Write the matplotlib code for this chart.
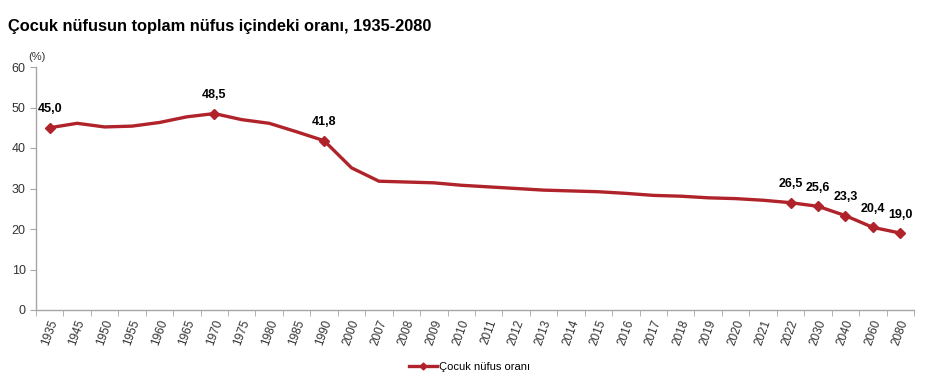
import matplotlib
matplotlib.use('Agg')
import matplotlib.pyplot as plt
import numpy as np

plt.rcParams['font.family'] = ['Liberation Sans', 'DejaVu Sans']

# Data
years = ['1935', '1945', '1950', '1955', '1960', '1965', '1970', '1975', '1980', '1985',
         '1990', '2000', '2007', '2008', '2009', '2010', '2011', '2012', '2013', '2014',
         '2015', '2016', '2017', '2018', '2019', '2020', '2021', '2022', '2030', '2040',
         '2060', '2080']
ratio = [45.0, 46.1, 45.2, 45.4, 46.3, 47.7, 48.5, 47.0, 46.1, 44.0,
         41.8, 35.1, 31.8, 31.6, 31.4, 30.8, 30.4, 30.0, 29.6, 29.4,
         29.2, 28.8, 28.3, 28.1, 27.7, 27.5, 27.1, 26.5, 25.6, 23.3,
         20.4, 19.0]
labeled = ['1935', '1970', '1990', '2022', '2030', '2040', '2060', '2080']

red = '#B0232A'
axis_grey = '#a6a6a6'

fig = plt.figure(figsize=(9.33, 3.78), dpi=100)
ax = fig.add_axes([36/933, 1 - 310/378, (914 - 36)/933, (310 - 67)/378])

x = np.arange(len(years))
mark_idx = [years.index(y) for y in labeled]
ax.plot(x, ratio, color=red, linewidth=2.4, marker='D', markersize=5,
        markevery=mark_idx, label='Çocuk nüfus oranı', zorder=3)

for i in mark_idx:
    ax.annotate(f'{ratio[i]:.1f}'.replace('.', ','), (x[i], ratio[i]),
                xytext=(0, 9), textcoords='offset points', ha='center', va='bottom',
                fontsize=9, fontweight='bold', color='black')

ax.set_xlim(-0.5, len(years) - 0.5)
ax.set_ylim(0, 60)
ax.set_yticks(range(0, 61, 10))
ax.set_xticks(x)
ax.set_xticklabels(years, rotation=70, fontsize=8.5, color='#333333')
ax.set_xticks(np.arange(-0.5, len(years), 1), minor=True)
ax.tick_params(axis='x', which='major', length=0, pad=6)
ax.tick_params(axis='x', which='minor', length=4, color=axis_grey, direction='out')
ax.tick_params(axis='y', length=4, color=axis_grey, labelsize=9, labelcolor='#333333')

for s in ['top', 'right']:
    ax.spines[s].set_visible(False)
for s in ['left', 'bottom']:
    ax.spines[s].set_color(axis_grey)
    ax.spines[s].set_linewidth(1)

ax.text(-0.009, 1.04, '(%)', transform=ax.transAxes, fontsize=8, color='#333333',
        ha='left', va='center')

fig.text(8/933, 1 - 27/378, 'Çocuk nüfusun toplam nüfus içindeki oranı, 1935-2080',
         fontsize=11.8, fontweight='bold', ha='left', va='center')

fig.legend(loc='center', bbox_to_anchor=(470/933, 1 - 367/378), frameon=False,
           fontsize=8, handlelength=2.5, handletextpad=0.2, markerscale=0.7)

fig.savefig('out.png', dpi=100, facecolor='white')
